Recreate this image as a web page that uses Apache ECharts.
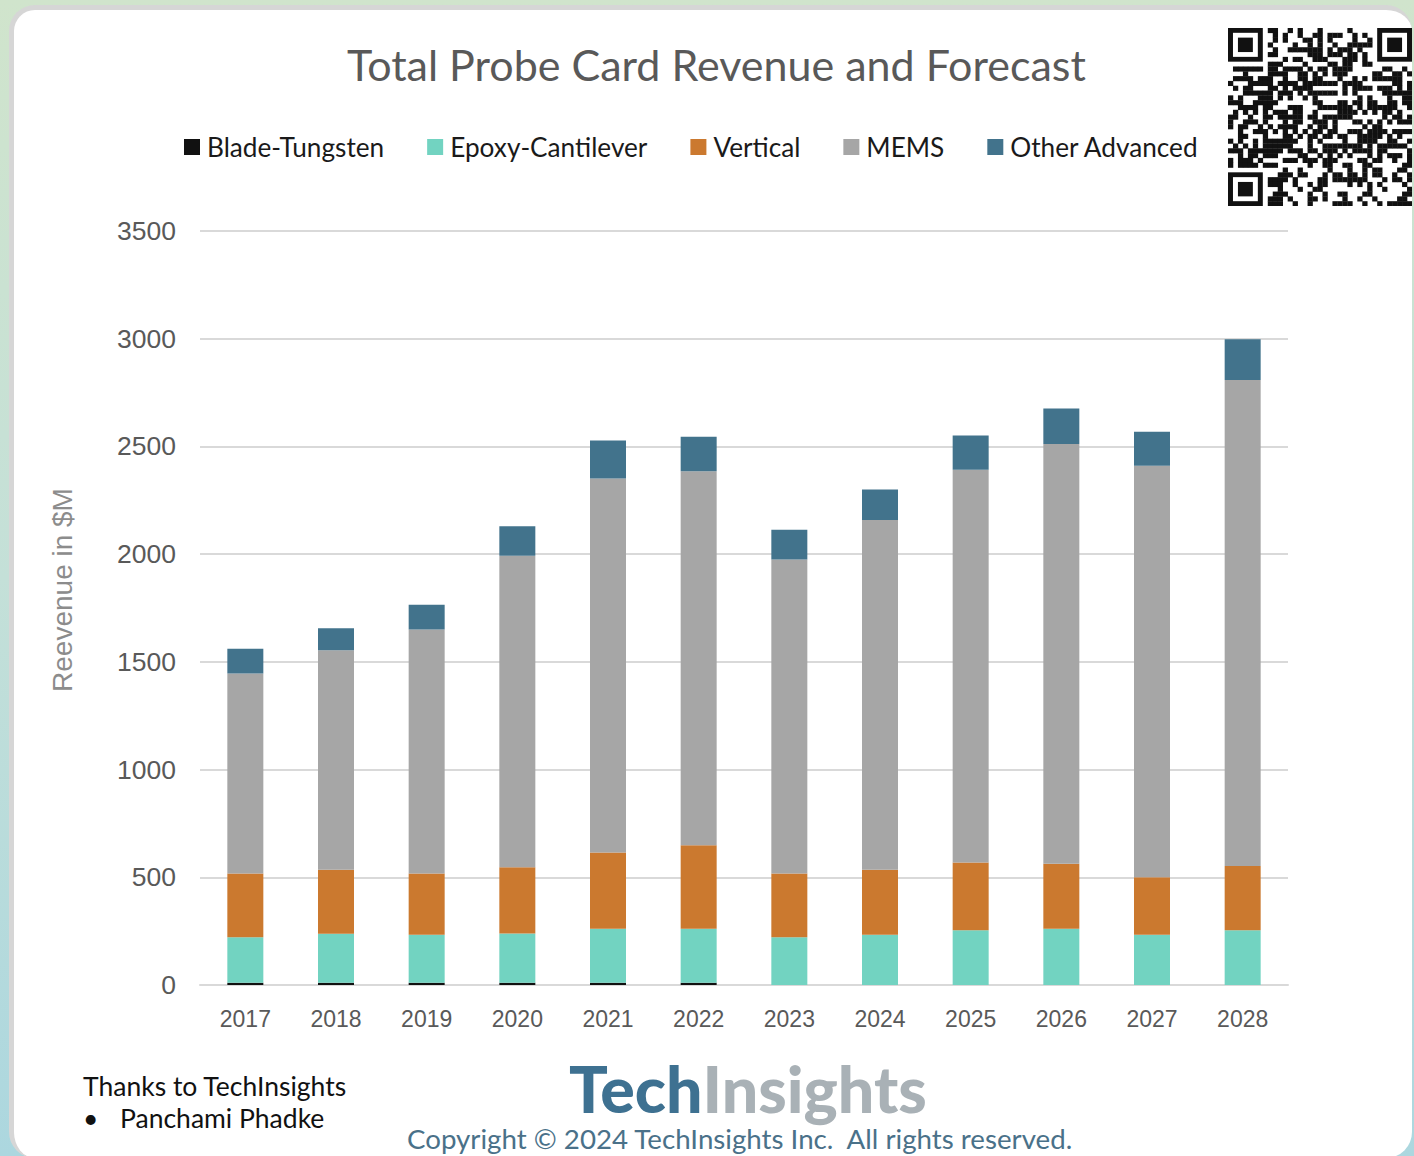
<!DOCTYPE html>
<html>
<head>
<meta charset="utf-8">
<script src="https://cdn.jsdelivr.net/npm/echarts@6/dist/echarts.min.js"></script>
<style>
  html, body { margin: 0; padding: 0; }
  body {
    width: 1414px; height: 1156px; overflow: hidden; position: relative;
    background: linear-gradient(to bottom, #d0e4cc 0%, #c4e0d8 50%, #acd7df 100%);
  }
  /* white card behind the chart */
  .card {
    position: absolute; left: 9px; top: 5px; width: 1403px; height: 1153px;
    background: #fff; border-left: 5px solid #d6d6d6; border-top: 5px solid #d6d6d6;
    border-radius: 26px; box-sizing: border-box;
  }
  #chart { position: absolute; left: 0; top: 0; width: 1414px; height: 1156px; }
  #qr { position: absolute; left: 1228px; top: 28px; }
</style>
</head>
<body>
<div class="card"></div>
<div id="chart"></div>
<canvas id="qr" width="184" height="178"></canvas>
<script>
// 数据
const years = ['2017', '2018', '2019', '2020', '2021', '2022', '2023', '2024', '2025', '2026', '2027', '2028']
const bladeTungsten = [10, 10, 10, 10, 10, 10, 0, 0, 0, 0, 0, 0]
const epoxyCantilever = [212, 228, 223, 229, 251, 251, 222, 233, 254, 261, 233, 254]
const vertical = [296, 297, 285, 308, 354, 388, 296, 302, 315, 302, 267, 298]
const mems = [928, 1019, 1132, 1446, 1736, 1736, 1457, 1623, 1823, 1948, 1910, 2256]
const otherAdvanced = [115, 102, 115, 137, 177, 160, 138, 142, 159, 165, 158, 189]
const yTicks = [0, 500, 1000, 1500, 2000, 2500, 3000, 3500]

const seriesDefs = [
  { name: 'Blade-Tungsten', data: bladeTungsten, color: '#111111' },
  { name: 'Epoxy-Cantilever', data: epoxyCantilever, color: '#72d3c1' },
  { name: 'Vertical', data: vertical, color: '#cb792f' },
  { name: 'MEMS', data: mems, color: '#a6a6a6' },
  { name: 'Other Advanced', data: otherAdvanced, color: '#42738c' }
]

const chart = echarts.init(document.getElementById('chart'), null, { renderer: 'svg' })

const option = {
  backgroundColor: 'transparent',
  animation: false,
  title: {
    text: 'Total Probe Card Revenue and Forecast',
    left: 342,
    top: 38,
    textStyle: { fontFamily: 'Lato', fontSize: 43, fontWeight: 'normal', color: '#595959' }
  },
  legend: {
    left: 184,
    top: 134,
    padding: 0,
    itemWidth: 16,
    itemHeight: 16,
    itemGap: 43,
    icon: 'rect',
    textStyle: { fontFamily: 'Lato', fontSize: 26.2, color: '#1a1a1a', padding: [0, 0, 0, 2] },
    data: seriesDefs.map(s => s.name)
  },
  grid: { left: 200, right: 126, top: 231, bottom: 171, containLabel: false },
  xAxis: {
    type: 'category',
    data: years,
    axisLine: { lineStyle: { color: '#d9d9d9', width: 2 } },
    axisTick: { show: false },
    axisLabel: { color: '#595959', fontFamily: 'Liberation Sans', fontSize: 23, margin: 22 }
  },
  yAxis: {
    type: 'value',
    min: yTicks[0],
    max: yTicks[yTicks.length - 1],
    interval: 500,
    name: 'Reevenue in $M',
    nameLocation: 'middle',
    nameGap: 124,
    nameRotate: 90,
    nameTextStyle: { color: '#8c8c8c', fontFamily: 'Liberation Sans', fontSize: 28, padding: [0, 0, 0, 36] },
    axisLine: { show: false },
    axisTick: { show: false },
    axisLabel: {
      color: '#595959', fontFamily: 'Liberation Sans', fontSize: 26.5, margin: 24,
      formatter: v => String(v)
    },
    splitLine: { lineStyle: { color: '#d9d9d9', width: 2 } }
  },
  series: seriesDefs.map(s => ({
    name: s.name,
    type: 'bar',
    stack: 'total',
    barWidth: 36,
    data: s.data,
    itemStyle: { color: s.color }
  })),
  graphic: [
    {
      type: 'text', left: 83, top: 1072,
      style: { text: 'Thanks to TechInsights', font: '26.5px Lato', fill: '#111' }
    },
    {
      type: 'text', left: 83, top: 1104,
      style: { text: '•', font: '26.5px Lato', fill: '#111' }
    },
    {
      type: 'text', left: 120, top: 1104,
      style: { text: 'Panchami Phadke', font: '26.5px Lato', fill: '#111' }
    },
    {
      type: 'text', left: 569, top: 1055,
      style: {
        text: '{a|Tech}{b|Insights}',
        rich: {
          a: { font: '900 64.5px Lato', fill: '#3e7191' },
          b: { font: '900 64.5px Lato', fill: '#a9b1b6' }
        }
      }
    },
    {
      type: 'text', left: 407, top: 1124,
      style: { text: 'Copyright © 2024 TechInsights Inc.  All rights reserved.', font: '27.7px Lato', fill: '#4a7189' }
    }
  ]
}

chart.setOption(option)

// 二维码装饰（固定图案）
const qr = document.getElementById('qr').getContext('2d')
const N = 37
const cw = 184 / N, ch = 178 / N
const hash = (r, c) => {
  let x = (r * 73856093) ^ (c * 19349663) ^ 0x5bd1e995
  x = Math.imul(x ^ (x >>> 15), 0x2c1b3c6d)
  x = Math.imul(x ^ (x >>> 12), 0x297a2d39)
  return (x ^ (x >>> 15)) >>> 0
}
qr.fillStyle = '#fff'
qr.fillRect(0, 0, 184, 178)
qr.fillStyle = '#111'
const inFinder = (r, c) => (r < 8 && c < 8) || (r < 8 && c >= N - 8) || (r >= N - 8 && c < 8)
for (let r = 0; r < N; r++) {
  for (let c = 0; c < N; c++) {
    if (inFinder(r, c)) continue
    if (hash(r, c) % 2 === 0) qr.fillRect(c * cw, r * ch, cw + 0.3, ch + 0.3)
  }
}
const finder = (r0, c0) => {
  qr.fillRect(c0 * cw, r0 * ch, 7 * cw, 7 * ch)
  qr.fillStyle = '#fff'
  qr.fillRect((c0 + 1) * cw, (r0 + 1) * ch, 5 * cw, 5 * ch)
  qr.fillStyle = '#111'
  qr.fillRect((c0 + 2) * cw, (r0 + 2) * ch, 3 * cw, 3 * ch)
}
finder(0, 0)
finder(0, N - 7)
finder(N - 7, 0)
</script>
</body>
</html>
